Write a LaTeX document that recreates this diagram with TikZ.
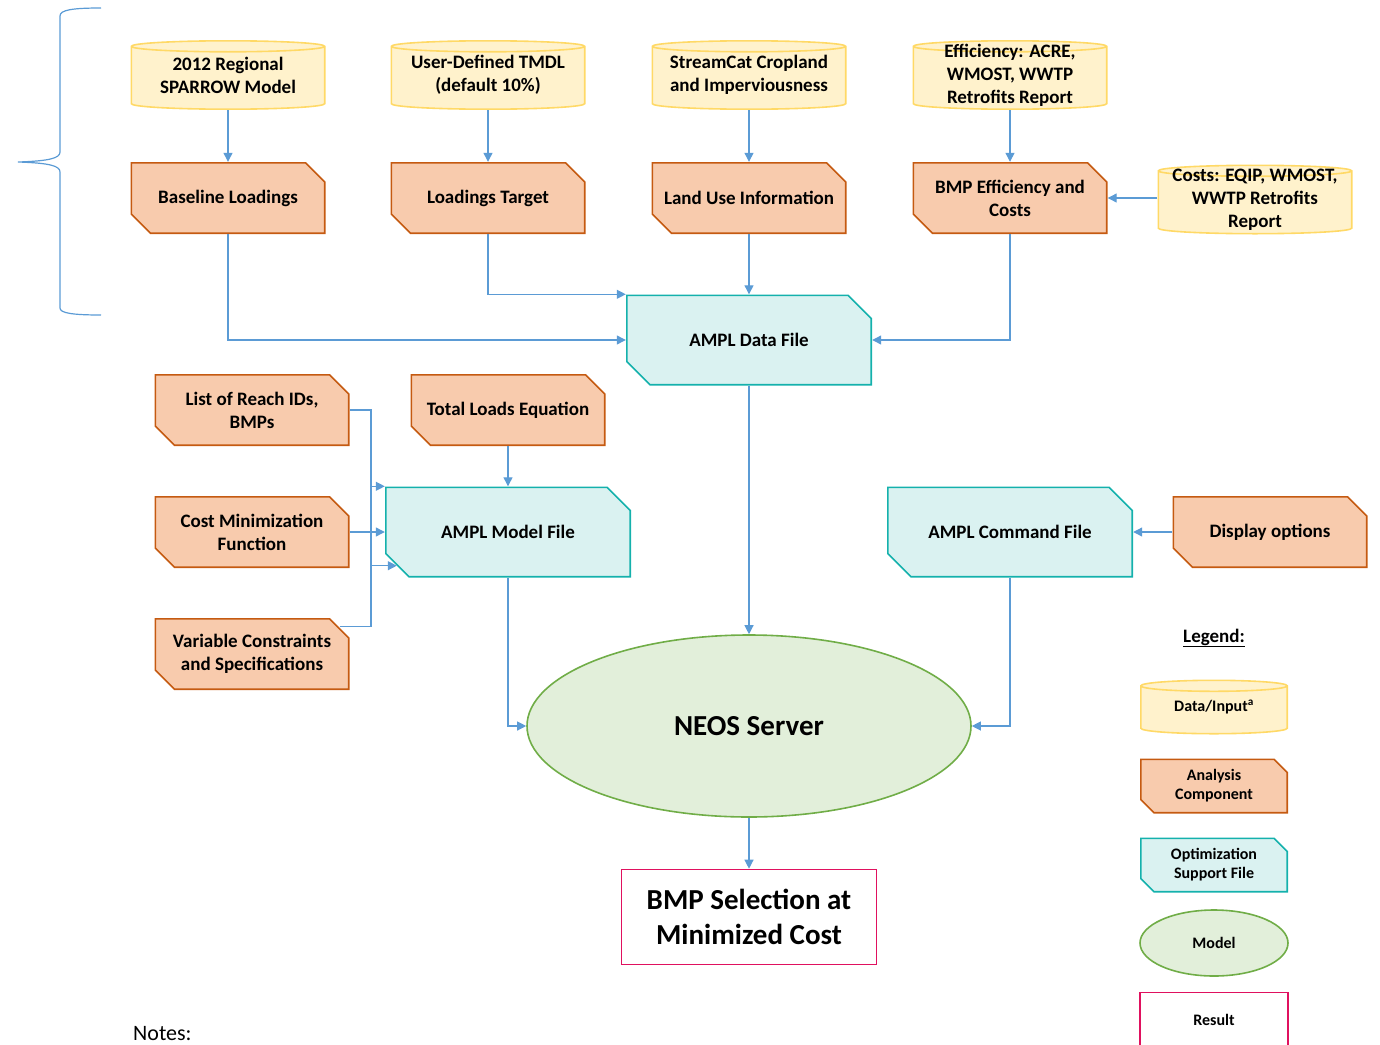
\documentclass[tikz,border=0pt]{standalone}
\usepackage{fontspec}
\setmainfont{Carlito}
\usetikzlibrary{arrows.meta,shapes.geometric,calc}

\definecolor{conn}{HTML}{5B9BD5}
\definecolor{datafill}{HTML}{FFF2CC}
\definecolor{dataline}{HTML}{FFD966}
\definecolor{anafill}{HTML}{F8CBAD}
\definecolor{analine}{HTML}{C55A11}
\definecolor{optfill}{HTML}{DAF2F1}
\definecolor{optline}{HTML}{14B1AC}
\definecolor{modfill}{HTML}{E2EFDA}
\definecolor{modline}{HTML}{70AD47}
\definecolor{resline}{HTML}{E0115F}

\tikzset{
	snipfill/.store in=\snipfill, snipline/.store in=\snipline, snipcut/.store in=\snipcut,
	snipfill=anafill, snipline=analine, snipcut=20pt,
	% rectangle with the top right and bottom left corners cut off
	snip/.style={rectangle, inner sep=0pt, align=center,
		path picture={
			\draw[draw=\snipline, fill=\snipfill, line width=1.6pt, line join=miter]
			let \p1=(path picture bounding box.south west), \p2=(path picture bounding box.north east) in
			(\x1+0.8pt,\y2-0.8pt) -- (\x2-\snipcut,\y2-0.8pt) -- (\x2-0.8pt,\y2-\snipcut)
			-- (\x2-0.8pt,\y1+0.8pt) -- (\x1+\snipcut,\y1+0.8pt) -- (\x1+0.8pt,\y1+\snipcut) -- cycle;
	}},
	% upright cylinder, text centred in the whole drum
	drum/.style={rectangle, inner sep=0pt, align=center,
		path picture={
			\draw[draw=dataline, fill=datafill, line width=1.6pt]
			let \p1=(path picture bounding box.south west), \p2=(path picture bounding box.north east),
			\n1={(\x2-\x1)/2-0.8pt} in
			(\x1+0.8pt,\y2-6.3pt) -- (\x1+0.8pt,\y1+6.3pt)
			arc[start angle=180, end angle=360, x radius=\n1, y radius=5.5pt]
			-- (\x2-0.8pt,\y2-6.3pt)
			arc[start angle=0, end angle=180, x radius=\n1, y radius=5.5pt]
			arc[start angle=180, end angle=360, x radius=\n1, y radius=5.5pt];
	}}
}

\begin{document}
\begin{tikzpicture}[
		x=1pt, y=-1pt,
		>={Triangle[length=9pt,width=9pt]},
		flow/.style={->, draw=conn, line width=1.2pt},
		datain/.style={drum, minimum width=195pt, minimum height=70pt,
			font=\bfseries\fontsize{19}{23}\selectfont},
		anabox/.style={snip, snipfill=anafill, snipline=analine, snipcut=20pt,
			minimum width=195pt, minimum height=72pt, font=\bfseries\fontsize{19}{23}\selectfont},
		optbox/.style={anabox, snipfill=optfill, snipline=optline, snipcut=24pt,
			minimum width=246pt, minimum height=91pt},
		modell/.style={ellipse, draw=modline, fill=modfill, line width=1.6pt, inner sep=0pt},
		resbox/.style={rectangle, draw=resline, fill=white, line width=1.6pt, align=center, inner sep=0pt},
		small/.style={font=\bfseries\fontsize{16}{19}\selectfont, minimum width=148pt, minimum height=55pt}
		]
		\useasboundingbox (0,0) rectangle (1380,1044);
		
		% brace
		\draw[conn, line width=1.2pt] (101,8) .. controls (72,8) and (60,10) .. (60,16) -- (60,152)
		.. controls (60,158) and (50,161) .. (18,162) .. controls (50,163) and (60,166) .. (60,172)
		-- (60,308) .. controls (60,313) and (72,315) .. (101,315);
		
		% data inputs
		\node[datain] (sparrow) at (228,75) {2012 Regional\\SPARROW Model};
		\node[datain] (tmdl) at (488,75) {User-Defined TMDL\\(default 10\%)};
		\node[datain] (streamcat) at (749,75) {StreamCat Cropland\\and Imperviousness};
		\node[datain] (effic) at (1010,75) {Efficiency: ACRE,\\WMOST, WWTP\\Retrofits Report};
		\node[datain] (costs) at (1255,199.5) {Costs: EQIP, WMOST,\\WWTP Retrofits\\Report};
		
		% analysis components
		\node[anabox] (baseline) at (228,198) {Baseline Loadings};
		\node[anabox] (target) at (488,198) {Loadings Target};
		\node[anabox] (landuse) at (749,198) {Land Use Information};
		\node[anabox] (bmpcost) at (1010,198) {BMP Efficiency and\\Costs};
		
		\node[anabox] (reach) at (252,410) {List of Reach IDs,\\BMPs};
		\node[anabox] (totload) at (508,410) {Total Loads Equation};
		\node[anabox] (costmin) at (252,532) {Cost Minimization\\Function};
		\node[anabox] (varcon) at (252,654) {Variable Constraints\\and Specifications};
		\node[anabox] (display) at (1270,532) {Display options};
		
		% optimization support files
		\node[optbox] (datafile) at (749,340) {AMPL Data File};
		\node[optbox] (modfile) at (508,532) {AMPL Model File};
		\node[optbox] (cmdfile) at (1010,532) {AMPL Command File};
		
		% model and result
		\node[modell, minimum width=444pt, minimum height=182pt,
		font=\bfseries\fontsize{29}{35}\selectfont] (neos) at (749,726) {NEOS Server};
		\node[resbox, minimum width=255pt, minimum height=95pt,
		font=\bfseries\fontsize{29}{35}\selectfont] (result) at (749,917) {BMP Selection at\\Minimized Cost};
		
		% connectors
		\draw[flow] (sparrow) -- (baseline);
		\draw[flow] (tmdl) -- (target);
		\draw[flow] (streamcat) -- (landuse);
		\draw[flow] (effic) -- (bmpcost);
		\draw[flow] (costs.west |- bmpcost.east) -- (bmpcost.east);
		\draw[flow] (baseline.south) |- (datafile.west);
		\draw[flow] (target.south) |- (datafile.north west);
		\draw[flow] (landuse) -- (datafile);
		\draw[flow] (bmpcost.south) |- (datafile.east);
		
		\coordinate (jx) at (371,532);
		\draw[flow] (reach.east) -| (jx) |- (modfile.north west);
		\draw[flow] (totload) -- (modfile);
		\draw[flow] (costmin) -- (modfile);
		\draw[flow] ($(varcon.north east)+(-10pt,-9pt)$) -| (jx) |- ($(modfile.south west)+(12pt,12pt)$);
		\draw[flow] (display) -- (cmdfile);
		
		\draw[flow] (datafile) -- (neos);
		\draw[flow] (modfile.south) |- (neos.west);
		\draw[flow] (cmdfile.south) |- (neos.east);
		\draw[flow] (neos) -- (result);
		
		% legend
		\node[font=\bfseries\fontsize{19}{22}\selectfont] (legend) at (1214,638) {\underline{Legend:}};
		\node[datain, small] (lgdata) at (1214,707) {Data/Input\textsuperscript{a}};
		\node[anabox, small, snipcut=14pt] (lgana) at (1214,786) {Analysis\\Component};
		\node[optbox, small, snipcut=14pt] (lgopt) at (1214,865) {Optimization\\Support File};
		\node[modell, small, minimum height=66pt] (lgmod) at (1214,943) {Model};
		\node[resbox, small] (lgres) at (1214,1020) {Result};
		
		% notes
		\node[anchor=base west, font=\fontsize{22}{26}\selectfont, inner sep=0pt] (notes) at (133,1040) {Notes:};
		
	\end{tikzpicture}
\end{document}
